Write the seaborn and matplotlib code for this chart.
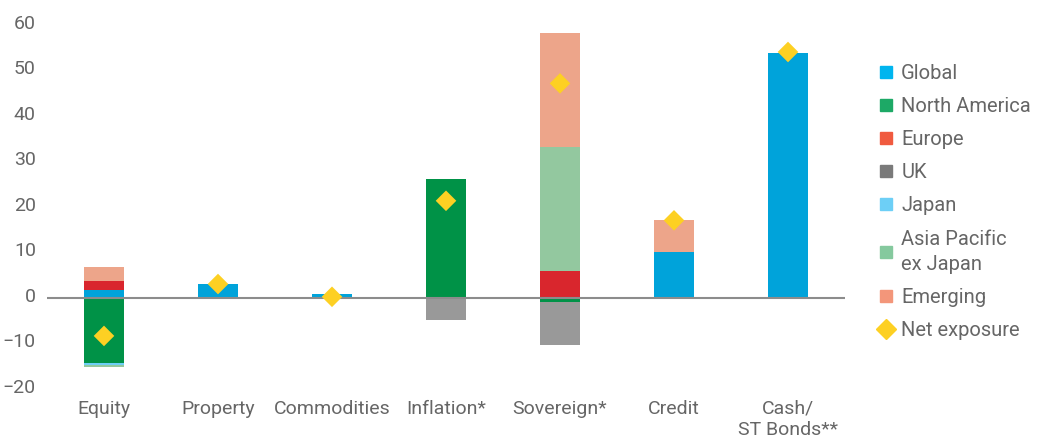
import matplotlib.pyplot as plt
import matplotlib.lines as mlines
import matplotlib.transforms as mtransforms
import seaborn as sns
import pandas as pd
import numpy as np

# data (% exposure)
categories = ['Equity', 'Property', 'Commodities', 'Inflation*', 'Sovereign*', 'Credit', 'Cash/\nST Bonds**']
series = ['Global', 'North America', 'Europe', 'UK', 'Japan', 'Asia Pacific\nex Japan', 'Emerging']
global_ = [1.8, 3.0, 0.9, 0.0, 0.0, 10.0, 53.8]
north_america = [-14.3, 0.0, 0.0, 26.1, -0.9, 0.0, 0.0]
europe = [1.8, 0.0, 0.0, 0.0, 5.8, 0.0, 0.0]
uk = [0.0, 0.0, 0.0, -5.0, -9.6, 0.0, 0.0]
japan = [-0.45, 0.0, 0.0, 0.0, 0.0, 0.0, 0.0]
asia_pac_ex_japan = [-0.45, 0.0, 0.0, 0.0, 27.3, 0.0, 0.0]
emerging = [3.1, 0.0, 0.0, 0.0, 25.0, 7.0, 0.0]
net_exposure = [-8.4, 3.0, 0.2, 21.3, 47.1, 17.0, 54.0]

bar_colors = ['#00A3DA', '#009247', '#D9262D', '#999999', '#6DCFF6', '#93C89F', '#EDA58A']
legend_colors = ['#00B5EF', '#1DA966', '#F05A3F', '#7A7A7A', '#6DCFF6', '#85C99E', '#F3967A']
net_color = '#FDD023'
text_color = '#666666'

sns.set_style('white')
plt.rcParams['font.family'] = ['Roboto', 'DejaVu Sans']

values = np.array([global_, north_america, europe, uk, japan, asia_pac_ex_japan, emerging])
pos = np.clip(values, 0, None).cumsum(axis=0)
neg = np.clip(values, None, 0).cumsum(axis=0)

fig = plt.figure(figsize=(10.38, 4.44), dpi=100)
ax = fig.add_axes([47 / 1038, 1 - 388.7 / 444, (845 - 47) / 1038, (388.7 - 24.7) / 444])

# draw stacked layers from outermost to innermost so inner ones overlay
for i in range(len(series) - 1, -1, -1):
    for stack in (pos, neg):
        df = pd.DataFrame({'category': categories, 'value': stack[i]})
        sns.barplot(data=df, x='category', y='value', order=categories,
                    color=bar_colors[i], width=0.35, saturation=1,
                    linewidth=0, ax=ax)

ax.axhline(0, color='#8c8c8c', linewidth=1.5, zorder=3)

net_df = pd.DataFrame({'category': categories, 'net': net_exposure})
sns.scatterplot(data=net_df, x='category', y='net', marker='D', s=110,
                color=net_color, edgecolor='none', zorder=5, ax=ax)

ax.set_xlim(-0.5, len(categories) - 0.5)
ax.set_ylim(-20, 60)
ax.set_yticks(range(-20, 61, 10))
ax.set_xlabel('')
ax.set_ylabel('')
sns.despine(ax=ax, left=True, bottom=True)
ax.tick_params(axis='both', length=0, labelsize=14, colors=text_color)
ax.tick_params(axis='y', pad=8)
ax.tick_params(axis='x', pad=8)
# y labels sit a touch above their gridline in the original
shift = mtransforms.ScaledTranslation(0, 3 / 100, fig.dpi_scale_trans)
for lbl in ax.get_yticklabels():
    lbl.set_verticalalignment('center_baseline')
    lbl.set_transform(lbl.get_transform() + shift)

handles = [mlines.Line2D([], [], marker='s', linestyle='none', markersize=9,
                         color=c, label=s) for s, c in zip(series, legend_colors)]
handles.append(mlines.Line2D([], [], marker='D', linestyle='none', markersize=10,
                             color=net_color, label='Net exposure'))
leg = fig.legend(handles=handles, loc='upper left', bbox_to_anchor=(866 / 1038, 1 - 56 / 444),
                 frameon=False, fontsize=14.5, labelcolor=text_color,
                 handletextpad=0.15, labelspacing=0.7, handlelength=1.2, borderaxespad=0)
for t in leg.get_texts():
    t.set_linespacing(1.45)

fig.savefig('out.png', dpi=100)
